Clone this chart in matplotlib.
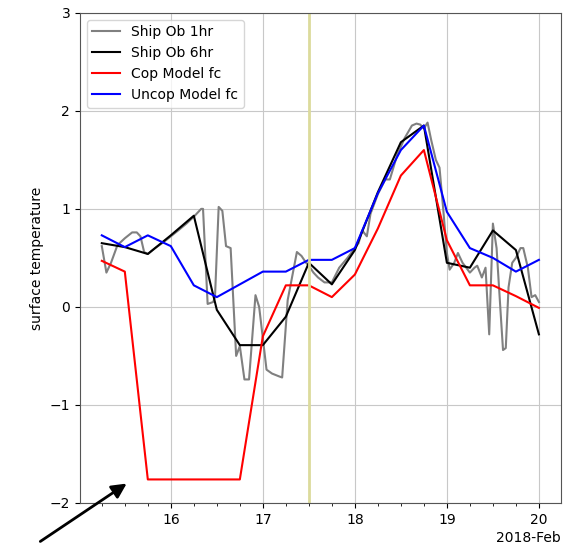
import numpy as np
import pandas as pd
import matplotlib
matplotlib.use('Agg')
import matplotlib.pyplot as plt
import matplotlib.dates as mdates

# 6-hourly series (day of Feb 2018)
days_6h = [15.25, 15.5, 15.75, 16.0, 16.25, 16.5, 16.75, 17.0, 17.25, 17.5,
           17.75, 18.0, 18.25, 18.5, 18.75, 19.0, 19.25, 19.5, 19.75, 20.0]
ship_6hr = [0.65, 0.61, 0.54, 0.73, 0.93, -0.03, -0.39, -0.39, -0.10, 0.45,
            0.23, 0.58, 1.17, 1.68, 1.85, 0.45, 0.40, 0.78, 0.58, -0.28]
cop_fc = [0.47, 0.36, -1.76, -1.76, -1.76, -1.76, -1.76, -0.30, 0.22, 0.22,
          0.10, 0.33, 0.80, 1.34, 1.60, 0.68, 0.22, 0.22, 0.11, -0.01]
uncop_fc = [0.73, 0.61, 0.73, 0.62, 0.22, 0.10, 0.23, 0.36, 0.36, 0.48,
            0.48, 0.60, 1.16, 1.60, 1.85, 0.97, 0.60, 0.50, 0.36, 0.48]

days_1h = [15.25, 15.30, 15.35, 15.42, 15.50, 15.58, 15.63, 15.67, 15.71, 15.75,
           15.83, 15.92, 16.00, 16.08, 16.17, 16.25, 16.29, 16.33, 16.35, 16.40,
           16.46, 16.48, 16.52, 16.56, 16.60, 16.65, 16.71, 16.75, 16.80, 16.85,
           16.92, 16.96, 17.04, 17.10, 17.18, 17.21, 17.27, 17.37, 17.42, 17.47,
           17.50, 17.55, 17.60, 17.67, 17.75, 17.83, 17.92, 18.00, 18.04, 18.08,
           18.13, 18.17, 18.25, 18.33, 18.38, 18.46, 18.54, 18.62, 18.67, 18.71,
           18.75, 18.79, 18.83, 18.88, 18.92, 18.96, 19.00, 19.03, 19.08, 19.12,
           19.17, 19.25, 19.30, 19.33, 19.38, 19.42, 19.46, 19.50, 19.54, 19.58,
           19.61, 19.64, 19.67, 19.71, 19.75, 19.80, 19.83, 19.88, 19.92, 19.96,
           20.00]
ship_1hr = [0.62, 0.35, 0.45, 0.63, 0.70, 0.76, 0.76, 0.72, 0.56, 0.54,
            0.60, 0.66, 0.72, 0.78, 0.85, 0.92, 0.96, 1.00, 1.00, 0.03,
            0.05, 0.10, 1.02, 0.98, 0.62, 0.60, -0.50, -0.40, -0.74, -0.74,
            0.12, 0.00, -0.64, -0.68, -0.71, -0.72, 0.07, 0.56, 0.52, 0.45,
            0.42, 0.35, 0.30, 0.25, 0.25, 0.40, 0.50, 0.60, 0.65, 0.78,
            0.72, 0.95, 1.15, 1.30, 1.30, 1.55, 1.72, 1.85, 1.87, 1.86,
            1.82, 1.88, 1.70, 1.50, 1.42, 1.00, 0.55, 0.38, 0.45, 0.55,
            0.45, 0.35, 0.40, 0.42, 0.30, 0.40, -0.28, 0.85, 0.60, 0.00,
            -0.44, -0.42, 0.20, 0.45, 0.50, 0.60, 0.60, 0.40, 0.10, 0.12,
            0.05]


def to_dates(days):
    return pd.Timestamp('2018-02-01') + pd.to_timedelta(np.array(days) - 1, unit='D')


t6 = to_dates(days_6h)
t1 = to_dates(days_1h)

fig = plt.figure(figsize=(5.67, 5.57), dpi=100)
ax = fig.add_axes([0.141, 0.097, 0.848, 0.880])

ax.plot(t1, ship_1hr, color='grey', lw=1.5, label='Ship Ob 1hr')
ax.plot(t6, ship_6hr, color='black', lw=1.5, label='Ship Ob 6hr')
ax.plot(t6, cop_fc, color='red', lw=1.5, label='Cop Model fc')
ax.plot(t6, uncop_fc, color='blue', lw=1.5, label='Uncop Model fc')
ax.axvline(to_dates([17.5])[0], color='#dcdb9c', lw=2)

ax.set_ylim(-2, 3)
ax.set_yticks([-2, -1, 0, 1, 2, 3])
ax.xaxis.set_major_locator(mdates.DayLocator())
ax.xaxis.set_minor_locator(mdates.HourLocator(byhour=[0, 6, 12, 18]))
ax.xaxis.set_major_formatter(mdates.ConciseDateFormatter(ax.xaxis.get_major_locator()))
ax.grid(True, color='#c8c8c8')
ax.set_ylabel('surface temperature')
for s in ax.spines.values():
    s.set_color('#555555')
ax.legend(loc='upper left')

# arrow pointing at the cold spell in the coupled run
ax.annotate('', xy=(129, 75), xycoords='figure pixels',
            xytext=(38, 14), textcoords='figure pixels',
            arrowprops=dict(arrowstyle='-|>', color='black', lw=2, mutation_scale=22),
            annotation_clip=False)

fig.savefig('out.png', dpi=100)
